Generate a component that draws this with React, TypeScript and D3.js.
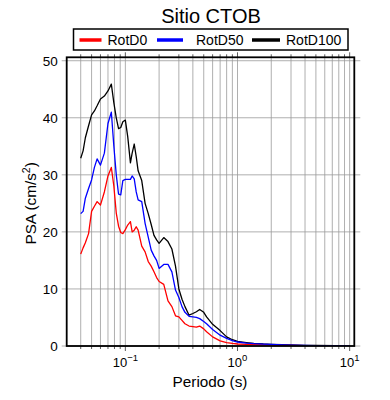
import React from "react";
import * as d3 from "d3";

const periods = [0.040, 0.042, 0.044, 0.047, 0.050, 0.053, 0.056, 0.060, 0.065, 0.070, 0.075, 0.079, 0.083, 0.087, 0.091, 0.095, 0.100, 0.105, 0.111, 0.115, 0.120, 0.125, 0.130, 0.140, 0.150, 0.160, 0.170, 0.180, 0.190, 0.200, 0.220, 0.240, 0.260, 0.280, 0.300, 0.320, 0.340, 0.370, 0.400, 0.430, 0.460, 0.500, 0.530, 0.600, 0.700, 0.800, 0.900, 1.0, 1.2, 1.4, 1.7, 2.0, 2.5, 3.0, 4.0, 5.0, 7.5, 10.0];

const rotD100 = [32.9, 34.2, 36.5, 38.6, 40.5, 41.2, 42.1, 43.3, 43.8, 44.7, 45.9, 42.6, 40.0, 38.1, 38.3, 39.3, 39.6, 36.7, 32.1, 33.8, 35.4, 33.2, 30.7, 29.0, 25.0, 23.2, 21.3, 19.4, 18.6, 18.0, 19.0, 18.3, 17.0, 14.0, 10.0, 8.2, 6.9, 5.4, 5.7, 6.0, 6.4, 5.9, 5.1, 3.8, 2.7, 1.6, 1.1, 0.8, 0.6, 0.45, 0.35, 0.3, 0.22, 0.18, 0.12, 0.09, 0.06, 0.05];

const rotD50 = [23.2, 23.6, 25.9, 27.6, 29.1, 31.3, 32.8, 31.7, 33.8, 39.0, 41.0, 35.0, 30.0, 26.6, 26.5, 29.0, 29.2, 29.2, 29.2, 29.8, 29.3, 27.0, 25.6, 25.3, 21.5, 19.1, 16.8, 15.8, 15.0, 13.6, 14.3, 14.3, 13.0, 9.8, 8.5, 6.9, 5.9, 5.2, 5.1, 5.0, 4.8, 4.3, 3.9, 2.9, 1.9, 1.35, 0.95, 0.7, 0.5, 0.4, 0.32, 0.28, 0.2, 0.16, 0.11, 0.08, 0.05, 0.04];

const rotD0 = [16.1, 17.2, 18.1, 19.7, 23.6, 24.5, 25.3, 24.7, 27.0, 29.8, 31.3, 28.0, 23.3, 21.0, 19.9, 19.7, 20.4, 21.2, 21.8, 20.0, 20.3, 20.9, 20.3, 17.5, 16.5, 14.8, 14.0, 13.0, 12.0, 11.3, 10.8, 7.9, 6.9, 5.3, 5.1, 4.5, 3.9, 3.5, 3.4, 3.3, 3.5, 3.0, 2.5, 1.6, 0.9, 0.6, 0.45, 0.35, 0.3, 0.25, 0.2, 0.15, 0.12, 0.1, 0.07, 0.05, 0.04, 0.03];

const seriesNames = ["RotD0", "RotD50", "RotD100"];
const seriesColors = ["#ff0000", "#0000ff", "#000000"];
const yTicks = [0, 10, 20, 30, 40, 50];
const xMajor = [0.1, 1, 10];
const xMajorExp = ["\u22121", "0", "1"];
const title = "Sitio CTOB";
const xLabel = "Periodo (s)";

const FONT = "'Liberation Sans', Arial, Helvetica, sans-serif";

export default function App() {
  const left = 66.7, right = 354.3, top = 57.3, bottom = 346;
  const x = d3.scaleLog().domain([0.03, 11]).range([left, right]);
  const y = d3.scaleLinear().domain([0, 50.6]).range([bottom, top]);

  const minor: number[] = [];
  for (const k of [-2, -1, 0, 1]) {
    for (let i = 1; i <= 9; i++) {
      const v = i * Math.pow(10, k);
      if (v > 0.0301 && v < 10.99) minor.push(v);
    }
  }

  const allSeries = [rotD0, rotD50, rotD100];
  const drawOrder = [2, 0, 1];
  const line = d3
    .line<number>()
    .x((_, i) => x(periods[i]))
    .y((d) => y(d));

  const legendItems = [
    { lx1: 79.5, lx2: 101.5, tx: 107.5 },
    { lx1: 157, lx2: 183, tx: 196 },
    { lx1: 252, lx2: 280, tx: 286 },
  ];

  return (
    <svg
      width={390}
      height={400}
      style={{ position: "absolute", left: 0, top: 0, background: "#fff" }}
      fontFamily={FONT}
    >
      <defs>
        <clipPath id="plotclip">
          <rect x={left} y={top} width={right - left} height={bottom - top} />
        </clipPath>
      </defs>
      <rect x={0} y={0} width={390} height={400} fill="#fff" />
      {/* grid */}
      {minor.map((v) => (
        <line key={"gx" + v} x1={x(v)} x2={x(v)} y1={top} y2={bottom} stroke="#9a9a9a" strokeWidth={0.8} />
      ))}
      {yTicks.map((v) => (
        <line key={"gy" + v} x1={left - 5} x2={right + 6} y1={y(v)} y2={y(v)} stroke="#9a9a9a" strokeWidth={0.8} />
      ))}
      {/* x ticks top & bottom */}
      {minor.map((v) => {
        const major = xMajor.includes(v);
        const len = major ? 5 : 3;
        return (
          <g key={"tx" + v}>
            <line x1={x(v)} x2={x(v)} y1={bottom} y2={bottom + len} stroke="#333" strokeWidth={0.8} />
            <line x1={x(v)} x2={x(v)} y1={top} y2={top - len} stroke="#333" strokeWidth={0.8} />
          </g>
        );
      })}
      {/* series */}
      <g clipPath="url(#plotclip)">
        {drawOrder.map((si) => (
          <path
            key={seriesNames[si]}
            d={line(allSeries[si]) || ""}
            fill="none"
            stroke={seriesColors[si]}
            strokeWidth={1.3}
            strokeLinejoin="round"
          />
        ))}
      </g>
      {/* frame */}
      <rect x={left} y={top} width={right - left} height={bottom - top} fill="none" stroke="#000" strokeWidth={1.8} />
      {/* y tick labels */}
      {yTicks.map((v) => (
        <text key={"yl" + v} x={left - 9} y={y(v) + 5} textAnchor="end" fontSize={13.5} fill="#000">
          {v}
        </text>
      ))}
      {/* x tick labels */}
      {xMajor.map((v, i) => (
        <text key={"xl" + v} x={x(v)} y={367} textAnchor="middle" fontSize={13} fill="#000">
          10
          <tspan fontSize={9.5} dy={-6}>{xMajorExp[i]}</tspan>
        </text>
      ))}
      {/* axis labels */}
      <text x={210} y={387} textAnchor="middle" fontSize={15.3} fill="#000">
        {xLabel}
      </text>
      <text transform={`translate(36,${y(25)}) rotate(-90)`} textAnchor="middle" fontSize={15.3} fill="#000">
        PSA (cm/s
        <tspan fontSize={10.5} dy={-6}>2</tspan>
        <tspan dy={6}>)</tspan>
      </text>
      {/* title */}
      <text x={211} y={23} textAnchor="middle" fontSize={20} fill="#000">
        {title}
      </text>
      {/* legend */}
      <rect x={73.5} y={29} width={274.5} height={21} fill="#fff" stroke="#000" strokeWidth={1.5} />
      {legendItems.map((it, i) => (
        <g key={"lg" + i}>
          <line x1={it.lx1} x2={it.lx2} y1={40} y2={40} stroke={seriesColors[i]} strokeWidth={3.5} />
          <text x={it.tx} y={45} fontSize={14} fill="#000">
            {seriesNames[i]}
          </text>
        </g>
      ))}
    </svg>
  );
}
